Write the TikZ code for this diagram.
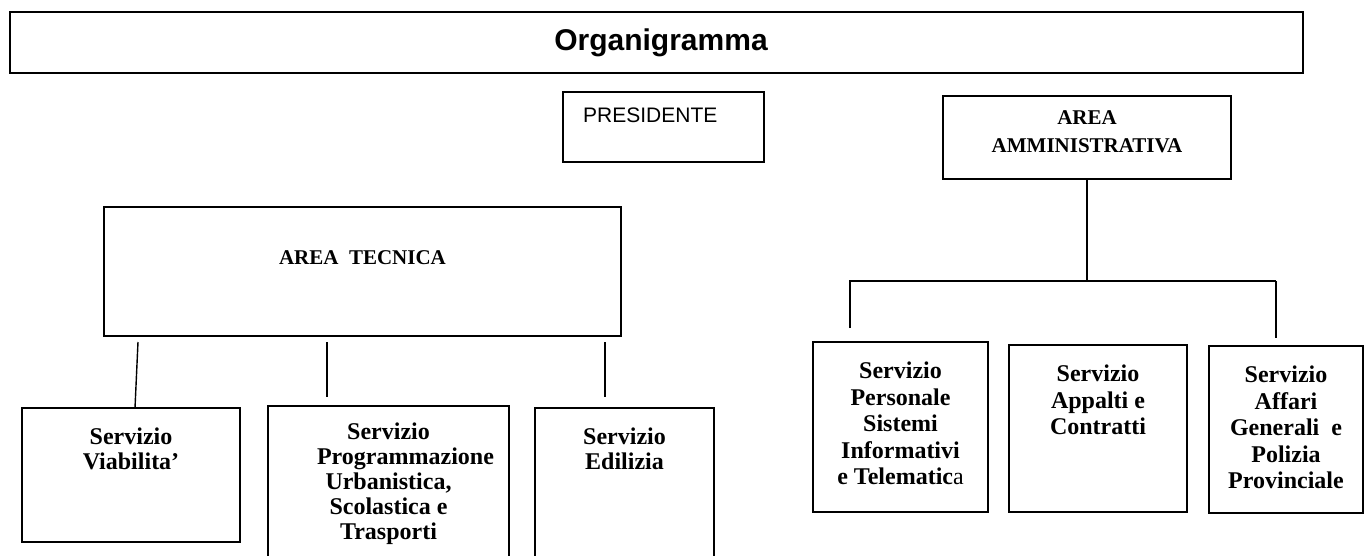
\documentclass[tikz,border=0pt]{standalone}
\usepackage{fontspec}
\setmainfont{Liberation Serif}
\newfontfamily\arialfont{Liberation Sans}
\usepackage{tikz}

\begin{document}
\begin{tikzpicture}[x=1pt, y=-1pt,
  box/.style={draw, line width=2.2pt, inner sep=0pt, outer sep=0pt, anchor=north west},
  arealbl/.style={anchor=north, inner sep=0pt, align=center, font=\fontsize{21}{28}\selectfont\bfseries},
  svclbl/.style={anchor=north, inner sep=0pt, align=center, yshift=-20pt, font=\fontsize{24}{25}\selectfont\bfseries},
  svcwide/.style={svclbl, font=\fontsize{24}{26.5}\selectfont\bfseries},
  preslbl/.style={anchor=north west, inner sep=0pt, xshift=20pt, yshift=-16pt, font=\arialfont\fontsize{21}{25}\selectfont},
  heavy/.style={line width=2.4pt},
  stem/.style={line width=1.4pt}]

\useasboundingbox (0,0) rectangle (1365,555);
\clip (0,0) rectangle (1365,555);

\node [box, minimum width=1293, minimum height=61, font=\arialfont\fontsize{30}{36}\selectfont\bfseries] (title) at (10,12) {\hspace*{9pt}Organigramma};

\node [box, minimum width=201, minimum height=70, label={[preslbl]north west:PRESIDENTE}] (pres) at (563,92) {};
\node [box, minimum width=288, minimum height=83, label={[arealbl, yshift=-14pt]north:AREA\\AMMINISTRATIVA}] (amm) at (943,96) {};
\node [box, minimum width=517, minimum height=129, label={[arealbl, yshift=-43pt]north:AREA\ \ TECNICA}] (tecnica) at (104,207) {};

\node [box, minimum width=218, minimum height=134, label={[svclbl]north:Servizio\\Viabilita'}] (viab) at (22,408) {};
\node [box, minimum width=241, minimum height=170, label={[svclbl, yshift=3pt]north:Servizio\\\hspace*{34pt}Programmazione\\Urbanistica,\\Scolastica e\\Trasporti}] (prog) at (268,406) {};
\node [box, minimum width=179, minimum height=170, label={[svclbl]north:Servizio\\Edilizia}] (edil) at (535,408) {};

\node [box, minimum width=175, minimum height=170, label={[svcwide]north:Servizio\\Personale\\Sistemi\\Informativi\\e Telematic{\mdseries a}}] (pers) at (813,342) {};
\node [box, minimum width=178, minimum height=167, label={[svcwide]north:Servizio\\Appalti e\\Contratti}] (appa) at (1009,345) {};
\node [box, minimum width=154, minimum height=167, label={[svcwide]north:Servizio\\Affari\\Generali\ \ e\\Polizia\\Provinciale}] (aff) at (1209,346) {};

\draw [stem] ([xshift=34,yshift=-6]tecnica.south west) -- ([xshift=113]viab.north west);
\draw [stem] ([xshift=223,yshift=-6]tecnica.south west) -- ([xshift=59,yshift=9]prog.north west);
\draw [stem] ([xshift=501,yshift=-6]tecnica.south west) -- ([xshift=70,yshift=11]edil.north west);

\coordinate (bar) at (1087,281);
\coordinate (affdrop) at ([xshift=67,yshift=8]aff.north west);
\draw [heavy] (amm.south) -- (bar);
\draw [heavy] ([xshift=37,yshift=14]pers.north west) |- (bar) -- (bar -| affdrop);
\draw [stem] (bar -| affdrop) -- (affdrop);
\end{tikzpicture}
\end{document}
